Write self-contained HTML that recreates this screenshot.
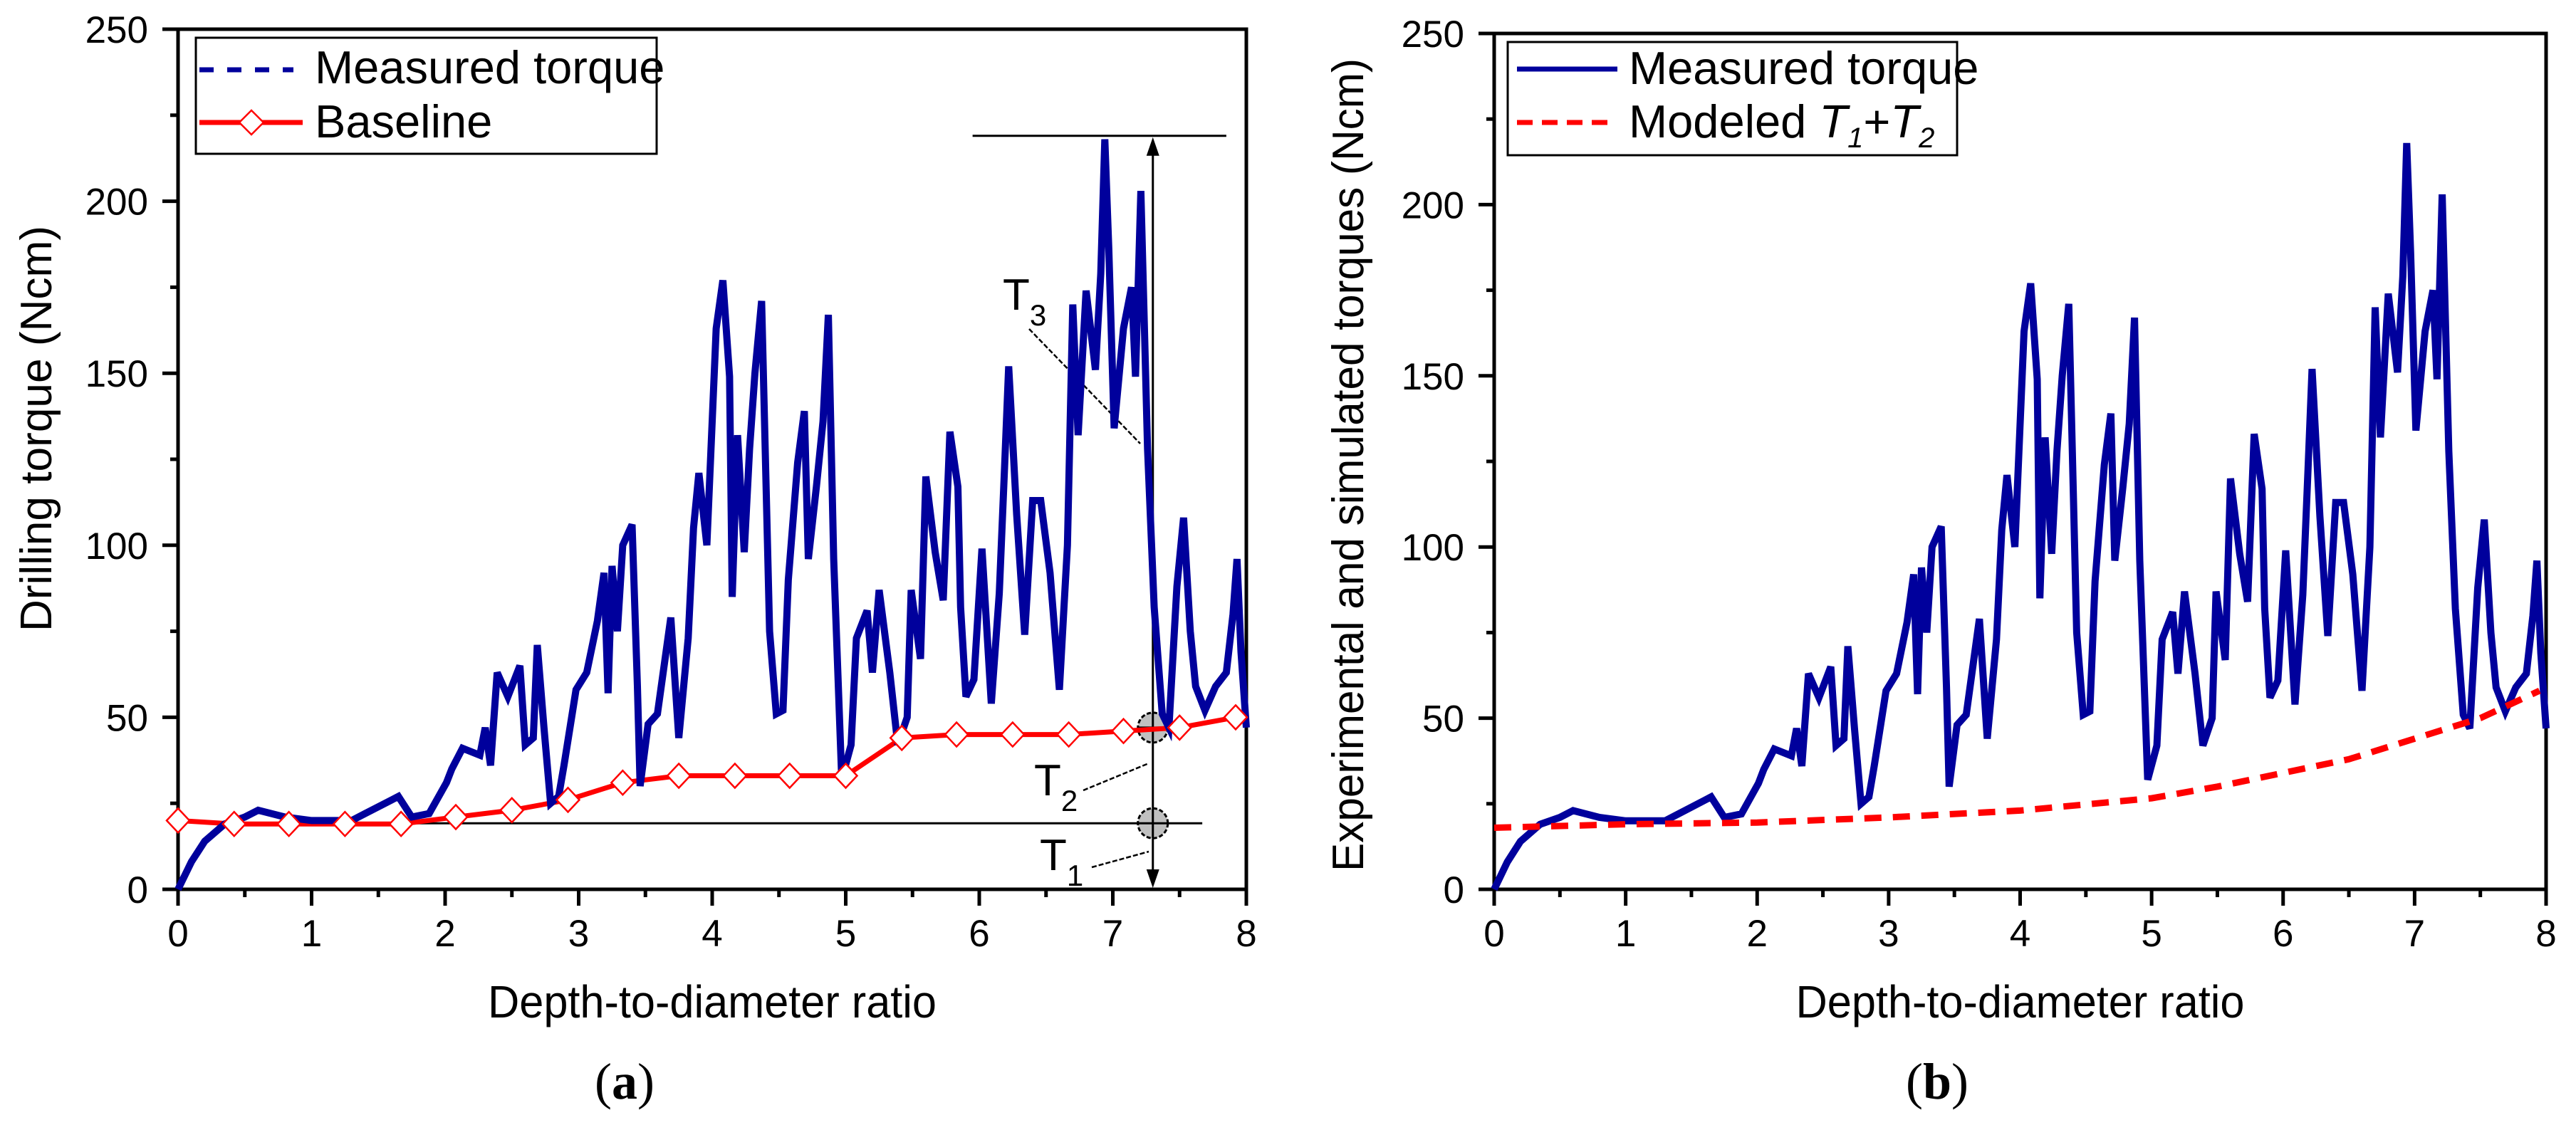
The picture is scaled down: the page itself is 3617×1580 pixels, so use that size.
<!DOCTYPE html>
<html><head><meta charset="utf-8"><style>
html,body{margin:0;padding:0;background:#fff;}
svg{display:block;}
text{font-family:"Liberation Sans",sans-serif;fill:#000;}
</style></head><body>
<svg id="fig" width="3617" height="1580" viewBox="0 0 3617 1580" xmlns="http://www.w3.org/2000/svg">
<rect width="3617" height="1580" fill="#fff"/>
</svg>
<script>
// ---- data ----
const measuredX = [0,0.1,0.2,0.35,0.5,0.6,0.8,1.0,1.3,1.4,1.6,1.65,1.75,1.88,2.01,2.05,2.13,2.26,2.30,2.34,2.39,2.47,2.56,2.60,2.66,2.69,2.74,2.79,2.85,2.89,2.98,3.06,3.14,3.19,3.22,3.25,3.29,3.33,3.40,3.44,3.46,3.52,3.59,3.69,3.75,3.82,3.86,3.90,3.96,4.03,4.08,4.13,4.15,4.19,4.24,4.28,4.32,4.37,4.43,4.48,4.53,4.57,4.64,4.69,4.72,4.78,4.83,4.87,4.91,4.97,5.04,5.08,5.16,5.20,5.25,5.33,5.39,5.46,5.49,5.56,5.60,5.67,5.73,5.78,5.84,5.86,5.90,5.96,6.02,6.09,6.15,6.19,6.22,6.28,6.34,6.40,6.46,6.53,6.60,6.66,6.70,6.74,6.80,6.87,6.91,6.94,6.97,7.01,7.08,7.14,7.17,7.21,7.26,7.31,7.37,7.42,7.48,7.53,7.58,7.62,7.69,7.77,7.85,7.90,7.93,7.96,8.0];
const measuredY = [0,8,14,19,21,23,21,20,20,22,26,27,21,22,31,35,41,39,47,36,63,56,65,42,44,71,47,25,27,36,58,63,78,92,57,94,75,100,106,59,30,48,51,79,44,73,105,121,100,163,177,149,85,132,98,128,150,171,75,51,52,90,124,139,96,117,136,167,96,32,42,73,81,63,87,63,42,50,87,67,120,98,84,133,117,82,56,61,99,54,86,123,152,109,74,113,113,92,58,100,170,132,174,151,179,218,186,134,163,175,149,203,128,82,51,47,88,108,75,59,52,59,63,80,96,69,47];
const baselineX = [0,0.42,0.83,1.25,1.67,2.08,2.5,2.92,3.33,3.75,4.17,4.58,5.0,5.42,5.83,6.25,6.67,7.08,7.5,7.92];
const baselineY = [20,19,19,19,19,21,23,26,31,33,33,33,33,44,45,45,45,46,47,50];
const modelX = [0,1,2,3,4,5,5.5,6,6.5,7,7.5,7.95];
const modelY = [18,19,19.5,21,23,26.6,30,34,38,44,50,58];
const xTicks = [0,1,2,3,4,5,6,7,8];
const yTicks = [0,50,100,150,200,250];

const NS="http://www.w3.org/2000/svg";
const svg=document.getElementById('fig');
function el(tag,attrs,parent,txt){const e=document.createElementNS(NS,tag);for(const k in attrs)e.setAttribute(k,attrs[k]);if(txt!==undefined)e.textContent=txt;(parent||svg).appendChild(e);return e;}

function panel(P){
  const g=el('g',{});
  
  
  const sx=v=>P.x0+(v-0)/8*(P.x1-P.x0);
  const sy=v=>P.y0-(v/250)*(P.y0-P.y1);
  P.sx=sx;P.sy=sy;
  const fr=el('rect',{x:P.x0,y:P.y1,width:P.x1-P.x0,height:P.y0-P.y1,fill:'none',stroke:'#000','stroke-width':5},g);
  
  
  for(let i=0;i<=16;i++){const v=i*0.5;const x=sx(v);const major=i%2===0;
    const t=el('line',{x1:x,y1:P.y0,x2:x,y2:P.y0+(major?23:11),stroke:'#000','stroke-width':5},g);
    
    }
  xTicks.forEach(v=>{const t=el('text',{x:sx(v),y:P.y0+80,'text-anchor':'middle','font-size':53},g,String(v));
    
    });
  for(let i=0;i<=10;i++){const v=i*25;const y=sy(v);const major=i%2===0;
    const t=el('line',{x1:P.x0-(major?22:11),y1:y,x2:P.x0,y2:y,stroke:'#000','stroke-width':5},g);
    
    }
  yTicks.forEach(v=>{const t=el('text',{x:P.x0-42,y:sy(v)+19,'text-anchor':'end','font-size':53},g,String(v));
    
    });
  const xt=el('text',{x:(P.x0+P.x1)/2,y:1429,'text-anchor':'middle','font-size':64,textLength:630,lengthAdjust:'spacingAndGlyphs'},g,'Depth-to-diameter ratio');
  
  
  const yt=el('text',{x:0,y:0,'text-anchor':'middle','font-size':62,textLength:P.ytLen,lengthAdjust:'spacingAndGlyphs',transform:`translate(${P.ytX},${P.ytY}) rotate(-90)`},g,P.ytitle);
  
  
  const cap=el('text',{x:P.capX,y:1543,'text-anchor':'middle','font-size':72,style:'font-family:"Liberation Serif",serif'},g);
  
  
  el('tspan',{},cap,'(');el('tspan',{'font-weight':'bold'},cap,P.cap);el('tspan',{},cap,')');
  return g;
}
function pathFrom(xs,ys,P){return xs.map((x,i)=>(i?'L':'M')+P.sx(x).toFixed(1)+','+P.sy(ys[i]).toFixed(1)).join(' ');}

// ---- panel a ----
const A={name:'panel-a',x0:250,x1:1750,y0:1249,y1:41,ytitle:'Drilling torque (Ncm)',ytLen:570,ytX:72,ytY:602,capX:877,cap:'a'};
const ga=panel(A);
const ann=el('g',{},ga);


const xv=A.sx(7.3);
el('line',{x1:A.sx(0.43),y1:A.sy(19.2),x2:A.sx(7.67),y2:A.sy(19.2),stroke:'#000','stroke-width':3},ann);
el('line',{x1:A.sx(5.95),y1:A.sy(219),x2:A.sx(7.85),y2:A.sy(219),stroke:'#000','stroke-width':3},ann);
el('line',{x1:xv,y1:A.sy(219)+20,x2:xv,y2:A.y0-25,stroke:'#000','stroke-width':3},ann);
el('polygon',{points:`${xv},${A.sy(219)+2} ${xv-9},${A.sy(219)+28} ${xv+9},${A.sy(219)+28}`,fill:'#000'},ann);
el('polygon',{points:`${xv},${A.y0-2} ${xv-9},${A.y0-28} ${xv+9},${A.y0-28}`,fill:'#000'},ann);
const bl=el('path',{d:pathFrom(baselineX,baselineY,A),fill:'none',stroke:'#ff0000','stroke-width':7},ga);


const ma=el('path',{d:pathFrom(measuredX,measuredY,A),fill:'none',stroke:'#00009c','stroke-width':10,'stroke-linejoin':'miter'},ga);


baselineX.forEach((x,i)=>{const cx=A.sx(x),cy=A.sy(baselineY[i]);
  const d=el('polygon',{points:`${cx},${cy-17} ${cx+16},${cy} ${cx},${cy+17} ${cx-16},${cy}`,fill:'#fff',stroke:'#ff0000','stroke-width':2.5},ga);
  
  });
[19.2,47].forEach(v=>{el('circle',{cx:xv,cy:A.sy(v),r:21,fill:'#c0c0c0',stroke:'#000','stroke-width':3,'stroke-dasharray':'6,3'},ann);
  el('line',{x1:xv-21,y1:A.sy(v),x2:xv+21,y2:A.sy(v),stroke:'#000','stroke-width':3},ann);
  el('line',{x1:xv,y1:A.sy(v)-21,x2:xv,y2:A.sy(v)+21,stroke:'#000','stroke-width':3},ann);});
function tlabel(x,y,sub,name){const t=el('text',{x:x,y:y,'font-size':62},ann);el('tspan',{},t,'T');el('tspan',{'font-size':42,dy:22},t,sub);
  
  }
tlabel(1408,435,'3','t3-label');tlabel(1452,1117,'2','t2-label');tlabel(1460,1222,'1','t1-label');
el('line',{x1:1445,y1:462,x2:1601,y2:623,stroke:'#000','stroke-width':2.5,'stroke-dasharray':'7,3'},ann);
el('line',{x1:1521,y1:1110,x2:1613,y2:1072,stroke:'#000','stroke-width':2.5,'stroke-dasharray':'7,3'},ann);
el('line',{x1:1533,y1:1218,x2:1613,y2:1196,stroke:'#000','stroke-width':2.5,'stroke-dasharray':'7,3'},ann);
const la=el('g',{},ga);


el('rect',{x:275,y:53,width:647,height:163,fill:'#fff',stroke:'#000','stroke-width':3},la);
el('line',{x1:280,y1:98,x2:412,y2:98,stroke:'#00009c','stroke-width':7,'stroke-dasharray':'20,19'},la);
el('text',{x:442,y:117,'font-size':65},la,'Measured torque');
el('line',{x1:280,y1:172,x2:425,y2:172,stroke:'#ff0000','stroke-width':7},la);
el('polygon',{points:'353,155 370,172 353,189 336,172',fill:'#fff',stroke:'#ff0000','stroke-width':2.5},la);
el('text',{x:442,y:193,'font-size':65},la,'Baseline');

// ---- panel b ----
const B={name:'panel-b',x0:2098,x1:3575,y0:1249,y1:47,ytitle:'Experimental and simulated torques (Ncm)',ytLen:1142,ytX:1914,ytY:653,capX:2720,cap:'b'};
const gb=panel(B);
const mb=el('path',{d:pathFrom(measuredX,measuredY,B),fill:'none',stroke:'#00009c','stroke-width':10},gb);


const md=el('path',{d:pathFrom(modelX,modelY,B),fill:'none',stroke:'#ff0000','stroke-width':9,'stroke-dasharray':'24,16'},gb);


const lb=el('g',{},gb);


el('rect',{x:2117,y:59,width:631,height:159,fill:'#fff',stroke:'#000','stroke-width':3},lb);
el('line',{x1:2130,y1:97,x2:2271,y2:97,stroke:'#00009c','stroke-width':7},lb);
el('text',{x:2287,y:118,'font-size':65},lb,'Measured torque');
el('line',{x1:2130,y1:172,x2:2262,y2:172,stroke:'#ff0000','stroke-width':7,'stroke-dasharray':'22,13'},lb);
const mt=el('text',{x:2287,y:193,'font-size':65},lb);
el('tspan',{},mt,'Modeled ');
el('tspan',{'font-style':'italic'},mt,'T');
el('tspan',{'font-style':'italic','font-size':40,dy:14},mt,'1');
el('tspan',{dy:-14},mt,'+');
el('tspan',{'font-style':'italic'},mt,'T');
el('tspan',{'font-style':'italic','font-size':40,dy:14},mt,'2');
</script>
</body></html>
